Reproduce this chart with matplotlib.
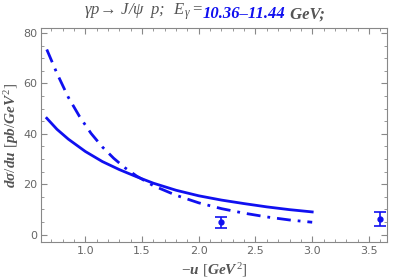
import numpy as np
import matplotlib
matplotlib.use("Agg")
import matplotlib.pyplot as plt
from matplotlib.ticker import MultipleLocator, FormatStrFormatter

plt.rcParams['mathtext.fontset'] = 'custom'
plt.rcParams['mathtext.rm'] = 'Liberation Serif'
plt.rcParams['mathtext.it'] = 'Liberation Serif:italic:bold'
plt.rcParams['mathtext.bf'] = 'Liberation Serif:italic:bold'
plt.rcParams['mathtext.sf'] = 'Liberation Serif:italic'

# curves
u_solid = [0.66, 0.75, 0.85, 1.0, 1.15, 1.3, 1.45, 1.6, 1.8, 2.0, 2.2, 2.4, 2.6, 2.8, 3.0]
ds_solid = [46.2, 41.8, 37.9, 33.0, 29.0, 25.8, 23.0, 20.4, 17.6, 15.4, 13.7, 12.3, 11.0, 9.9, 9.0]

u_dash = [0.66, 0.75, 0.85, 0.95, 1.05, 1.15, 1.25, 1.35, 1.45, 1.6, 1.8, 2.0, 2.2, 2.4, 2.6, 2.8, 3.0]
ds_dash = [73.5, 64.0, 54.5, 46.8, 40.2, 34.8, 30.3, 26.5, 23.3, 19.4, 15.6, 12.6, 10.3, 8.5, 7.0, 5.8, 4.9]

# data points
u_data = [2.2, 3.6]
ds_data = [4.9, 6.3]
ds_err = [2.2, 2.7]

blue = '#1010f0'
gray = '#555555'

fig = plt.figure(figsize=(4.07, 2.78), dpi=100)
ax = fig.add_axes([0.101, 0.129, 0.85, 0.77])

ax.plot(u_solid, ds_solid, color=blue, lw=2.0)
ax.plot(u_dash, ds_dash, color=blue, lw=2.0, dashes=(5, 2.5, 1, 2.5))
ax.errorbar(u_data, ds_data, yerr=ds_err, fmt='o', color=blue, ms=3.5,
            capsize=4, elinewidth=1.2, capthick=1.2)

ax.set_xlim(0.61, 3.66)
ax.set_ylim(-3, 82)
ax.xaxis.set_major_locator(MultipleLocator(0.5))
ax.xaxis.set_minor_locator(MultipleLocator(0.1))
ax.yaxis.set_major_locator(MultipleLocator(20))
ax.yaxis.set_minor_locator(MultipleLocator(5))
ax.tick_params(which='both', direction='in', top=True, right=True,
               color='#888888', labelcolor='#666666', labelsize=8, pad=2.5)
ax.tick_params(which='major', length=4)
ax.tick_params(which='minor', length=2)
for s in ax.spines.values():
    s.set_color('#888888')
ax.xaxis.set_major_formatter(FormatStrFormatter('%.1f'))

ax.set_xlabel(r'$-u\ [GeV^2]$', color=gray, fontsize=11)
ax.set_ylabel(r'$d\sigma/du\ [pb/GeV^2]$', color=gray, fontsize=11)
ax.xaxis.set_label_coords(0.5, -0.088)
ax.yaxis.set_label_coords(-0.058, 0.5)

# title in three colored pieces
t1 = fig.text(0.499, 0.957, r'$\mathsf{\gamma p\!\rightarrow\, J/\psi\;\;p;\;\; E}_{\mathsf{\gamma}}\mathsf{=}$',
              color=gray, fontsize=12, ha='right', va='center')
t2 = ax.annotate('10.36\u201311.44', xy=(1, 0), xycoords=t1, color=blue,
                 fontsize=12, ha='left', va='bottom',
                 family='Liberation Serif', style='italic', weight='bold')
t3 = ax.annotate(' GeV;', xy=(1, 0), xycoords=t2, color=gray,
                 fontsize=12, ha='left', va='bottom',
                 family='Liberation Serif', style='italic', weight='bold')

fig.savefig('out.png', dpi=100)
